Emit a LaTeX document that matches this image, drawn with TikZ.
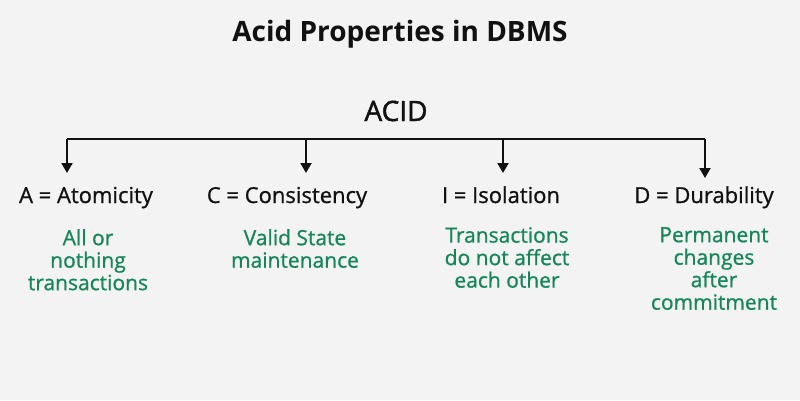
\documentclass[tikz,border=0pt]{standalone}
\usepackage{fontspec}
\setmainfont{Open Sans}
\newfontfamily\medfont[FakeBold=0.9]{Open Sans}
\newfontfamily\semifont[FakeBold=1.6]{Open Sans}
\usetikzlibrary{arrows.meta}
\definecolor{bg}{RGB}{243,243,243}
\definecolor{desc}{RGB}{22,134,90}
\definecolor{ink}{RGB}{17,17,17}
\begin{document}
\begin{tikzpicture}[x=1pt,y=-1pt,
  titletext/.style={font=\bfseries\fontsize{28}{30}\selectfont, text=ink, inner sep=0, anchor=base},
  roottext/.style={font=\semifont\fontsize{28}{30}\selectfont, text=ink, inner sep=0, anchor=base},
  proptext/.style={font=\medfont\fontsize{22}{24}\selectfont, text=ink, inner sep=0, anchor=base},
  desctext/.style={font=\medfont\fontsize{21}{22.5}\selectfont, text=desc, inner sep=0, anchor=north, align=center},
  bus/.style={draw=ink, line width=2pt},
  branch/.style={draw=ink, line width=2pt, -{Triangle[width=11pt,length=10pt]}}
]
\fill[bg] (0,0) rectangle (800,400);
\useasboundingbox (0,0) rectangle (800,400);

\node[titletext] (title) at (400,41) {Acid Properties in DBMS};
\node[roottext] (acid) at (396,121) {ACID};

\coordinate (busL) at (67,139);
\coordinate (busC) at (306,139);
\coordinate (busI) at (503,139);
\coordinate (busR) at (705,139);
\coordinate (tipA) at (67,173);
\coordinate (tipC) at (306,173);
\coordinate (tipI) at (503,173);
\coordinate (tipD) at (705,178);

\draw[bus] (busL) -- (busR);
\draw[branch] (busL) -- (tipA);
\draw[branch] (busC) -- (tipC);
\draw[branch] (busI) -- (tipI);
\draw[branch] (busR) -- (tipD);

\node[proptext] (pa) at (86,203) {A = Atomicity};
\node[proptext] (pc) at (287,203) {C = Consistency};
\node[proptext] (pi) at (501,203) {I = Isolation};
\node[proptext] (pd) at (704,203) {D = Durability};

\node[desctext] (da) at (88,229) {All or\\nothing\\transactions};
\node[desctext] (dc) at (295,229) {Valid State\\maintenance};
\node[desctext] (di) at (507,227) {Transactions\\do not affect\\each other};
\node[desctext] (dd) at (714,227) {Permanent\\changes\\after\\commitment};
\end{tikzpicture}
\end{document}
